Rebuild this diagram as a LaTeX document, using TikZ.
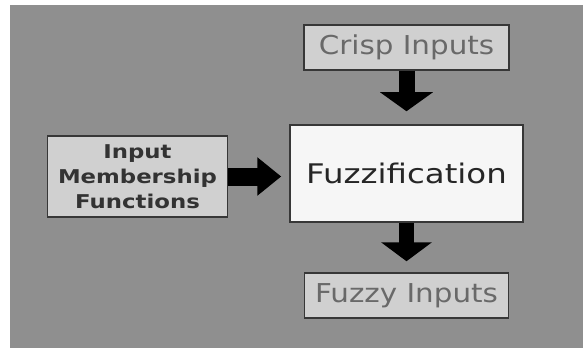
\documentclass[tikz,border=0pt]{standalone}
\usepackage{fontspec}
\setmainfont{DejaVu Sans}
\newfontfamily\widefont[FakeStretch=1.13]{DejaVu Sans}
\newfontfamily\bigfont[FakeStretch=1.2]{DejaVu Sans}
\newfontfamily\boldwide[FakeStretch=1.2]{DejaVu Sans Bold}
\usetikzlibrary{arrows.meta}
\definecolor{bg}{RGB}{143,143,143}
\definecolor{boxfill}{RGB}{208,208,208}
\definecolor{boxline}{RGB}{55,55,55}
\definecolor{fuzzfill}{RGB}{246,246,246}
\definecolor{softtext}{RGB}{105,105,105}
\begin{document}
\begin{tikzpicture}[x=1pt,y=-1pt,
  box/.style={draw=boxline,line width=1.5pt,fill=boxfill,inner sep=0pt,anchor=center},
  bigarrow/.style={line width=#1, draw=black}]
\useasboundingbox (0,0) rectangle (583,350);
\fill[white] (0,0) rectangle (583,350);
\fill[bg] (10,5) rectangle (583,348);
\node[box,minimum width=205pt,minimum height=45pt,text=softtext,font=\widefont\fontsize{26}{30}\selectfont] (crisp) at (406.5,47.5) {Crisp Inputs};
\node[box,fill=fuzzfill,minimum width=233pt,minimum height=97pt,text=black!85,font=\bigfont\fontsize{27}{32}\selectfont] (fuzz) at (406.5,173.5) {Fuzzification};
\node[box,minimum width=180pt,minimum height=81pt,text=black!80,align=center,font=\boldwide\fontsize{19}{25}\selectfont] (imf) at (137.5,176.5) {Input\\Membership\\Functions};
\node[box,minimum width=204pt,minimum height=45pt,text=softtext,font=\widefont\fontsize{26}{30}\selectfont] (fuzzy) at (406.5,295.5) {Fuzzy Inputs};
\draw[line width=16pt,-{Triangle[width=52pt,length=19pt]},shorten >=13pt] (crisp.south) -- (fuzz.north);
\draw[line width=15pt,-{Triangle[width=50pt,length=19pt]},shorten >=11pt] (fuzz.south) -- (fuzzy.north);
\draw[line width=18pt,-{Triangle[width=37pt,length=24pt]},shorten >=8pt] (imf.east) -- (imf.east -| fuzz.west);
\end{tikzpicture}
\end{document}
